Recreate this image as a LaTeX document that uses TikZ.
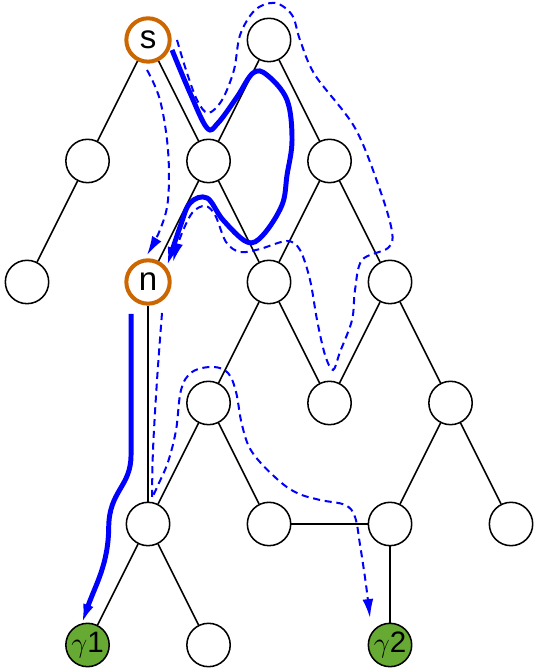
\documentclass[tikz,border=0pt]{standalone}
\usepackage{fontspec}
\setsansfont{Liberation Sans}
\usetikzlibrary{arrows.meta}
\definecolor{srcorange}{RGB}{204,102,0}
\definecolor{goalgreen}{RGB}{102,170,51}
\definecolor{pathblue}{RGB}{0,0,255}

\begin{document}
\begin{tikzpicture}[
    vtx/.style={circle, draw=black, line width=0.65pt, fill=white,
      minimum size=0.645cm, inner sep=0pt,
      font=\sffamily\fontsize{14}{16}\selectfont},
    marked/.style={vtx, draw=srcorange, line width=1.7pt},
    goal/.style={vtx, fill=goalgreen, font=\sffamily\fontsize{12.5}{14}\selectfont},
    edge/.style={black, line width=0.65pt},
    walk/.style={pathblue, line width=2.1pt, -{Latex[length=8pt,width=4.6pt]}},
    probe/.style={pathblue, line width=0.85pt, dash pattern=on 3pt off 2pt,
      -{Latex[length=8pt,width=4.6pt]}}
  ]
    \useasboundingbox (-0.402,-0.357) rectangle (7.572,9.595);

    % vertices, top row first
    \node[marked] (s) at (1.8,9.0) {s};
    \node[vtx] (t) at (3.6,9.0) {};
    \node[vtx] (a1) at (0.9,7.2) {};
    \node[vtx] (a2) at (2.7,7.2) {};
    \node[vtx] (a3) at (4.5,7.2) {};
    \node[vtx] (b1) at (0.0,5.4) {};
    \node[marked] (n) at (1.8,5.4) {n};
    \node[vtx] (b3) at (3.6,5.4) {};
    \node[vtx] (b4) at (5.4,5.4) {};
    \node[vtx] (c1) at (2.7,3.6) {};
    \node[vtx] (c2) at (4.5,3.6) {};
    \node[vtx] (c3) at (6.3,3.6) {};
    \node[vtx] (d1) at (1.8,1.8) {};
    \node[vtx] (d2) at (3.6,1.8) {};
    \node[vtx] (d3) at (5.4,1.8) {};
    \node[vtx] (d4) at (7.2,1.8) {};
    \node[goal] (g1) at (0.9,0.0) {$\gamma$1};
    \node[vtx] (e2) at (2.7,0.0) {};
    \node[goal] (g2) at (5.4,0.0) {$\gamma$2};

    % edges
    \draw[edge] (s) -- (a1) (a1) -- (b1);
    \draw[edge] (s) -- (a2);
    \draw[edge] (t) -- (a2) (t) -- (a3);
    \draw[edge] (a2) -- (n) (a2) -- (b3);
    \draw[edge] (a3) -- (b3) (a3) -- (b4);
    \draw[edge] (n) -- (d1);
    \draw[edge] (b3) -- (c1) (b3) -- (c2);
    \draw[edge] (b4) -- (c2) (b4) -- (c3);
    \draw[edge] (c1) -- (d1) (c1) -- (d2);
    \draw[edge] (d2) -- (d3);
    \draw[edge] (c3) -- (d3) (c3) -- (d4);
    \draw[edge] (d1) -- (g1) (d1) -- (e2);
    \draw[edge] (d3) -- (g2);

    % thick walk s -> n
    \draw[walk] plot[smooth, tension=0.6] coordinates {
      (2.157,8.851) (2.425,8.212) (2.678,7.691) (2.841,7.765) (3.124,8.152)
      (3.362,8.509) (3.570,8.479) (3.868,8.107) (3.942,7.512) (3.868,6.992)
      (3.793,6.545) (3.511,6.099) (3.273,5.995) (2.916,6.322) (2.678,6.650)
      (2.425,6.575) (2.276,6.218) (2.083,5.638)};
    % thick walk n -> gamma1
    \draw[walk] (1.547,4.924) -- (1.547,2.826)
      .. controls (1.547,2.35) and (1.22,2.3) .. (1.215,1.75)
      .. controls (1.21,1.2) and (1.02,0.9) .. (0.818,0.327);

    % dashed: short way s -> n
    \draw[probe] plot[smooth, tension=0.6] coordinates {
      (1.785,8.554) (1.978,8.107) (2.097,7.364) (2.097,6.620) (1.978,6.174)
      (1.785,5.802)};
    % dashed: long way s -> n
    \draw[probe] plot[smooth, tension=0.55] coordinates {
      (2.231,9.000) (2.365,8.554) (2.529,8.107) (2.693,7.914) (2.901,8.107)
      (3.079,8.554) (3.169,9.074) (3.392,9.446) (3.689,9.551) (3.942,9.372)
      (4.061,9.000) (4.284,8.479) (4.879,7.691) (5.251,6.769) (5.430,6.144)
      (5.370,5.906) (4.983,5.727) (4.879,5.281) (4.835,4.835) (4.656,4.359)
      (4.552,4.091) (4.433,4.314) (4.314,4.835) (4.210,5.430) (4.061,5.876)
      (3.868,6.010) (3.466,5.891) (3.169,5.846) (2.960,5.995) (2.797,6.397)
      (2.648,6.531) (2.455,6.426) (2.276,6.055) (2.172,5.698)};
    % dashed: n -> gamma2
    \draw[probe] plot[smooth, tension=0.6] coordinates {
      (2.008,4.939) (1.934,3.942) (1.874,2.901) (1.860,2.187)}
      -- plot[smooth, tension=0.6] coordinates {
      (1.860,2.187) (1.949,2.380) (2.097,2.722) (2.217,3.198) (2.291,3.793)
      (2.455,4.061) (2.767,4.136) (2.990,4.046) (3.109,3.764) (3.198,3.273)
      (3.347,2.871) (3.719,2.469) (4.017,2.261) (4.359,2.157) (4.731,2.083)
      (4.879,1.904) (4.954,1.488) (5.043,0.893) (5.102,0.402)};
\end{tikzpicture}
\end{document}
